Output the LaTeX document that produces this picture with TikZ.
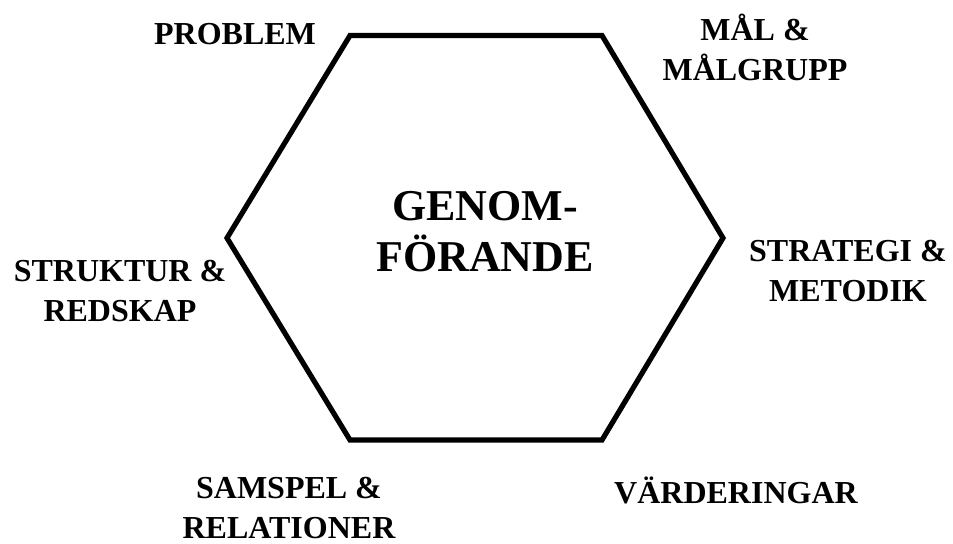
\documentclass[tikz,border=0pt]{standalone}
\usepackage{fontspec}
\setmainfont{Liberation Serif}
\tikzset{
  hexline/.style={black, line width=2.6pt, line join=miter},
  sidelabel/.style={font=\bfseries\fontsize{16}{20}\selectfont, align=center, inner sep=0pt},
  centerlabel/.style={font=\bfseries\fontsize{22}{25.5}\selectfont, align=center, inner sep=0pt}
}

\begin{document}
\begin{tikzpicture}[x=0.5pt, y=-0.5pt]
  \useasboundingbox (0,0) rectangle (953,543);
  % hexagon corners
  \coordinate (tl) at (350,35.5);
  \coordinate (tr) at (602,35.5);
  \coordinate (rt) at (723,238);
  \coordinate (br) at (602,440);
  \coordinate (bl) at (350,440);
  \coordinate (lf) at (227,238);
  \draw[hexline] (tl) -- (tr) -- (rt) -- (br) -- (bl) -- (lf) -- cycle;
  \node[centerlabel] (genom) at (485,232) {GENOM-\\FÖRANDE};
  % labels round the hexagon
  \node[sidelabel] (problem) at (235,34.5) {PROBLEM};
  \node[sidelabel] (mal) at (755,47) {MÅL \&\\MÅLGRUPP};
  \node[sidelabel] (strategi) at (848,271) {STRATEGI \&\\METODIK};
  \node[sidelabel] (varden) at (736,490) {VÄRDERINGAR};
  \node[sidelabel] (samspel) at (289,508) {SAMSPEL \&\\RELATIONER};
  \node[sidelabel] (struktur) at (120,291) {STRUKTUR \&\\REDSKAP};
\end{tikzpicture}
\end{document}
